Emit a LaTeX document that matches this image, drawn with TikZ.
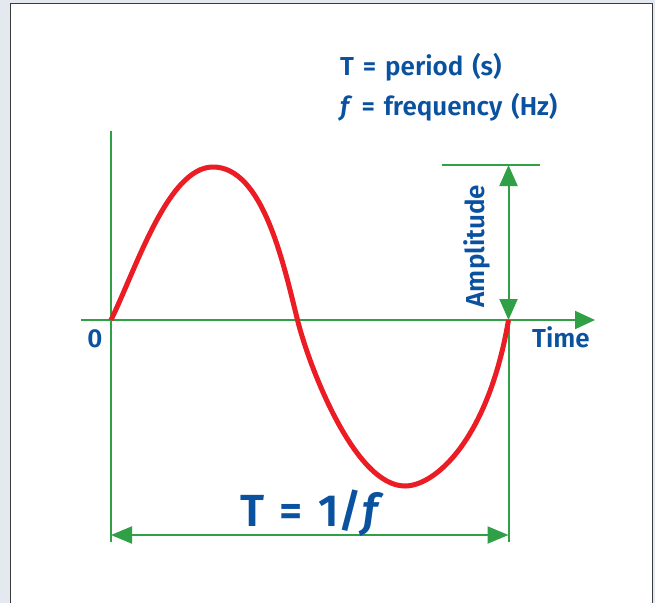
\documentclass[tikz,border=0pt]{standalone}
\usepackage{fontspec}
\setmainfont{Fira Sans}[BoldFont={Fira Sans SemiBold},BoldItalicFont={Fira Sans SemiBold Italic},WordSpace=1.4]
\usetikzlibrary{arrows.meta}
\definecolor{gr}{RGB}{48,160,70}
\definecolor{bl}{RGB}{10,82,160}
\definecolor{rd}{RGB}{236,28,36}
\definecolor{bgc}{RGB}{227,233,239}
\definecolor{framec}{RGB}{60,60,60}
\tikzset{
  gline/.style={draw=gr, line width=2pt},
  lbl/.style={text=bl, inner sep=0pt, font=\bfseries\fontsize{26}{30}\selectfont},
}
\begin{document}
\begin{tikzpicture}[x=1pt,y=-1pt]
\useasboundingbox (0,0) rectangle (655,603);
\fill[bgc] (0,0) rectangle (655,603);
\fill[white] (10.5,3.5) rectangle (652.5,603);
\draw[framec, line width=1.6pt] (10.5,603) -- (10.5,3.5) -- (652.5,3.5) -- (652.5,603);
% coordinates
\coordinate (O) at (111,320);
\coordinate (E) at (508.5,320);
\coordinate (ytop) at (111,131);
\coordinate (ybot) at (111,542);
\coordinate (xl) at (81,320);
\coordinate (xr) at (595,320);
\coordinate (rbot) at (508.5,542);
\coordinate (amptop) at (508.5,165);
\coordinate (al) at (442,165);
\coordinate (ar) at (540,165);
\coordinate (tl) at (111,535);
\coordinate (tr) at (508.5,535);
% axes
\draw[gline] (ytop) -- (ybot);
\draw[gline, -{Triangle[length=20pt,width=18pt]}] (xl) -- (xr);
\draw[gline] (E) -- (rbot);
\draw[gline] (al) -- (ar);
\draw[gline, {Triangle[length=21pt,width=18pt]}-{Triangle[length=21pt,width=18pt]}] (amptop) -- (E);
\draw[gline, {Triangle[length=21pt,width=17pt]}-{Triangle[length=21pt,width=17pt]}] (tl) -- (tr);
% curve
\draw[rd, line width=5pt] (O) .. controls (136,269) and (168,167) .. (213,167)
  .. controls (263,167) and (283.5,264) .. (297.5,320)
  .. controls (309.5,368) and (355,486) .. (405,486)
  .. controls (435,486) and (488,440) .. (E);
% labels
\node[lbl, anchor=base west] (tp) at (340,75) {T = period (s)};
\node[lbl, anchor=base west] (fq) at (340,115) {\textit{f} = frequency (Hz)};
\node[lbl, anchor=base] (zero) at (95,347) {0};
\node[lbl, anchor=base west] (time) at (532,347) {Time};
\node[lbl, anchor=base, rotate=90] (amp) at (484,246) {Amplitude};
\node[lbl, anchor=base west, font=\bfseries\fontsize{45}{48}\selectfont] (tf) at (240,526) {T = 1/\textit{f}};
\end{tikzpicture}
\end{document}
